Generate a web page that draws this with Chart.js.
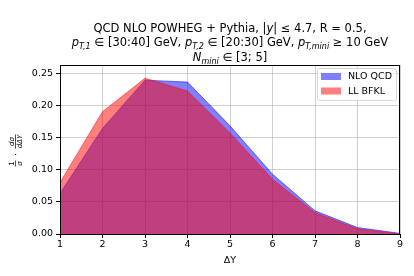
<!DOCTYPE html>
<html>
<head>
<meta charset="utf-8">
<script src="https://cdn.jsdelivr.net/npm/chart.js@4"></script>
<style>
  html, body { margin: 0; padding: 0; background: #fff; }
  #wrap { width: 414px; height: 276px; }
</style>
</head>
<body>
<div id="wrap"><canvas id="chart" width="414" height="276"></canvas></div>
<script>
const deltaY = [1, 2, 3, 4, 5, 6, 7, 8, 9];
const nloQcd = [0.063, 0.164, 0.239, 0.236, 0.168, 0.093, 0.036, 0.010, 0.001];
const llBfkl = [0.080, 0.190, 0.242, 0.222, 0.157, 0.085, 0.033, 0.008, 0.000];
const yTicks = [0, 0.05, 0.10, 0.15, 0.20, 0.25];

const FONT = 'DejaVu Sans';
const TICK_SIZE = 9.5;

// title with sub/superscripts, drawn by hand
const titleLines = [
  [['QCD NLO POWHEG + Pythia, |', 'n'], ['y', 'i'], ['| \u2264 4.7, R = 0.5,', 'n']],
  [['p', 'i'], ['T,1', 'si'], [' \u2208 [30:40] GeV, ', 'n'], ['p', 'i'], ['T,2', 'si'],
   [' \u2208 [20:30] GeV, ', 'n'], ['p', 'i'], ['T,', 'si'], ['mini', 'si'], [' \u2265 10 GeV', 'n']],
  [['N', 'i'], ['mini', 'si'], [' \u2208 [3; 5]', 'n']]
];

function segFont(kind) {
  if (kind === 'i') return 'italic 11.5px ' + FONT;
  if (kind === 'si') return 'italic 8px ' + FONT;
  return '11.5px ' + FONT;
}

const titlePlugin = {
  id: 'richTitle',
  afterDraw(chart) {
    const ctx = chart.ctx;
    const cx = (chart.chartArea.left + chart.chartArea.right) / 2;
    const ys = [32, 46, 61];
    ctx.save();
    ctx.fillStyle = '#000';
    ctx.textBaseline = 'alphabetic';
    titleLines.forEach((line, i) => {
      let w = 0;
      line.forEach(s => { ctx.font = segFont(s[1]); w += ctx.measureText(s[0]).width; });
      let x = cx - w / 2;
      line.forEach(s => {
        ctx.font = segFont(s[1]);
        const dy = s[1] === 'si' ? 2.5 : 0;
        ctx.fillText(s[0], x, ys[i] + dy);
        x += ctx.measureText(s[0]).width;
      });
    });
    ctx.restore();
  }
};

const framePlugin = {
  id: 'frame',
  afterDraw(chart) {
    const a = chart.chartArea;
    const ctx = chart.ctx;
    ctx.save();
    ctx.strokeStyle = '#000';
    ctx.lineWidth = 1;
    ctx.strokeRect(a.left + 0.5, a.top + 0.5, a.right - a.left - 1, a.bottom - a.top);

    // y label: 1/sigma * dsigma/dDeltaY as stacked fractions, rotated
    ctx.translate(16, (a.top + a.bottom) / 2);
    ctx.rotate(-Math.PI / 2);
    ctx.fillStyle = '#000';
    ctx.textAlign = 'center';
    ctx.font = '7px ' + FONT;
    ctx.fillText('1', -14, -2);
    ctx.font = 'italic 7px ' + FONT;
    ctx.fillText('\u03c3', -14, 6);
    ctx.fillRect(-17, -1, 6, 0.7);
    ctx.font = '8px ' + FONT;
    ctx.fillText('\u00b7', -5, 3);
    ctx.font = 'italic 7px ' + FONT;
    ctx.fillText('d\u03c3', 8, -2);
    ctx.fillText('d\u0394Y', 8, 6);
    ctx.fillRect(1, -1, 14, 0.7);
    ctx.restore();

    // legend inside the plot, top right
    const lx = 317, ly = 68, lw = 79, lh = 32;
    ctx.save();
    ctx.fillStyle = 'rgba(255,255,255,0.8)';
    ctx.strokeStyle = '#d8d8d8';
    ctx.lineWidth = 1;
    ctx.beginPath();
    ctx.roundRect(lx + 0.5, ly + 0.5, lw, lh, 2);
    ctx.fill();
    ctx.stroke();
    const items = [
      ['NLO QCD', 'rgba(0,0,255,0.5)'],
      ['LL BFKL', 'rgba(255,0,0,0.5)']
    ];
    items.forEach((it, i) => {
      const y = ly + 5 + i * 14.5;
      ctx.fillStyle = it[1];
      ctx.fillRect(lx + 4, y, 20, 7);
      ctx.fillStyle = '#000';
      ctx.font = TICK_SIZE + 'px ' + FONT;
      ctx.textBaseline = 'middle';
      ctx.fillText(it[0], lx + 31, y + 4);
    });
    ctx.restore();
  }
};

new Chart(document.getElementById('chart'), {
  type: 'line',
  data: {
    datasets: [
      {
        label: 'LL BFKL',
        data: deltaY.map((x, i) => ({ x: x, y: llBfkl[i] })),
        borderColor: 'rgba(255,0,0,0.5)',
        backgroundColor: 'rgba(255,0,0,0.5)',
        borderWidth: 1,
        pointRadius: 0,
        tension: 0,
        fill: 'origin'
      },
      {
        label: 'NLO QCD',
        data: deltaY.map((x, i) => ({ x: x, y: nloQcd[i] })),
        borderColor: 'rgba(0,0,255,0.5)',
        backgroundColor: 'rgba(0,0,255,0.5)',
        borderWidth: 1,
        pointRadius: 0,
        tension: 0,
        fill: 'origin'
      }
    ]
  },
  options: {
    responsive: false,
    animation: false,
    layout: { padding: { left: 0, right: 14, top: 65, bottom: 10 } },
    plugins: { legend: { display: false }, title: { display: false }, tooltip: { enabled: false } },
    scales: {
      x: {
        type: 'linear',
        min: 1,
        max: 9,
        z: 1,
        afterFit(s) { s.height = 32; },
        afterBuildTicks(s) { s.ticks = deltaY.map(v => ({ value: v })); },
        ticks: { color: '#000', font: { family: FONT, size: TICK_SIZE }, padding: 1, maxRotation: 0 },
        grid: { color: 'rgba(176,176,176,0.6)', tickColor: '#000', tickLength: 4 },
        border: { color: '#000' },
        title: { display: true, text: '\u0394Y', color: '#000', font: { family: FONT, size: TICK_SIZE }, padding: { top: 1, bottom: 0 } }
      },
      y: {
        min: 0,
        max: 0.2625,
        z: 1,
        afterFit(s) { s.width = 60; },
        afterBuildTicks(s) { s.ticks = yTicks.map(v => ({ value: v })); },
        ticks: { color: '#000', font: { family: FONT, size: TICK_SIZE }, padding: 3, callback: v => v.toFixed(2) },
        grid: { color: 'rgba(176,176,176,0.6)', tickColor: '#000', tickLength: 4 },
        border: { color: '#000' }
      }
    }
  },
  plugins: [titlePlugin, framePlugin]
});
</script>
</body>
</html>
